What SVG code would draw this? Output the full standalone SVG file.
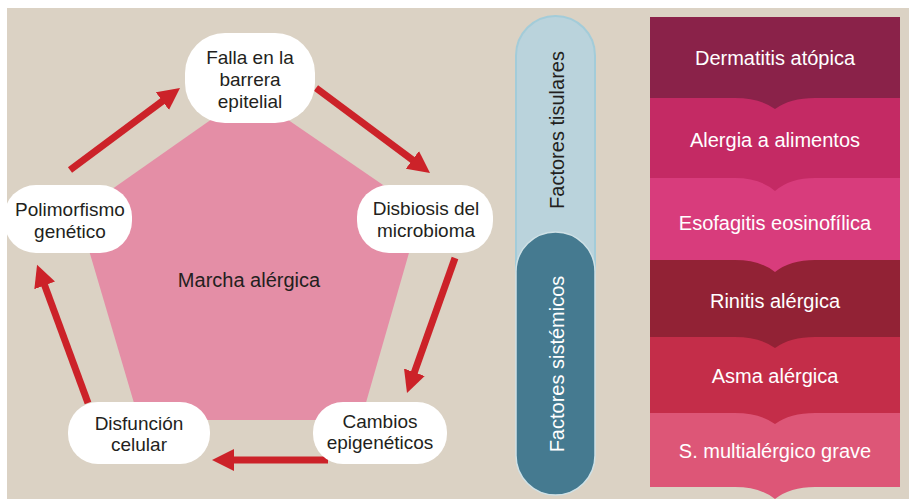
<svg xmlns="http://www.w3.org/2000/svg" width="909" height="499" viewBox="0 0 909 499">
<defs>
<style>
.t{font-family:"Liberation Sans",Arial,sans-serif;font-size:20px;fill:#231f20;text-anchor:middle}
.n{font-size:19px}
.w{fill:#ffffff}
.node{fill:#ffffff}
.arr{stroke:#cc2229;stroke-width:7;fill:none;marker-end:url(#ah)}
</style>
<marker id="ah" markerUnits="userSpaceOnUse" markerWidth="24" markerHeight="24" refX="8" refY="11" orient="auto">
<path d="M0,0 L22,11 L0,22 Z" fill="#cc2229"/>
</marker>
</defs>
<rect x="0" y="0" width="909" height="499" fill="#ffffff"/>
<rect x="7" y="8" width="902" height="491" fill="#dbd2c4"/>
<g id="pentagon">
<polygon points="249,93 421,211 361,420 139,420 78,213" fill="#e48ea6"/>
<text class="t" x="249" y="287">Marcha alérgica</text>
</g>
<g id="connectors">
<line class="arr" x1="70" y1="170" x2="168.8" y2="96.4"/>
<line class="arr" x1="316" y1="88" x2="418.8" y2="164.6"/>
<line class="arr" x1="455" y1="258" x2="411.7" y2="379.8"/>
<line class="arr" x1="328" y1="460" x2="226" y2="460"/>
<line class="arr" x1="88" y1="403" x2="41.9" y2="277.9"/>
</g>
<g id="n-falla">
<rect class="node" x="185" y="33" width="130" height="90" rx="40"/>
<text class="t n" x="250" y="64">Falla en la</text>
<text class="t n" x="250" y="86">barrera</text>
<text class="t n" x="250" y="108">epitelial</text>
</g>
<g id="n-disbiosis">
<rect class="node" x="357" y="185" width="136" height="68" rx="32"/>
<text class="t n" x="426" y="215">Disbiosis del</text>
<text class="t n" x="426" y="237">microbioma</text>
</g>
<g id="n-cambios">
<rect class="node" x="313" y="402" width="134" height="62" rx="30"/>
<text class="t n" x="380" y="428">Cambios</text>
<text class="t n" x="380" y="449">epigenéticos</text>
</g>
<g id="n-disfuncion">
<rect class="node" x="68" y="402" width="142" height="62" rx="30"/>
<text class="t n" x="139" y="430">Disfunción</text>
<text class="t n" x="139" y="451">celular</text>
</g>
<g id="n-polimorfismo">
<rect class="node" x="4" y="185" width="128" height="68" rx="32"/>
<text class="t n" x="70" y="216">Polimorfismo</text>
<text class="t n" x="70" y="238">genético</text>
</g>
<g id="factores-tisulares">
<rect x="516" y="16" width="79" height="290" rx="39.5" fill="#bad3dc" stroke="#a3ccd9" stroke-width="2"/>
<text class="t" transform="translate(564,130) rotate(-90)">Factores tisulares</text>
</g>
<g id="factores-sistemicos">
<rect x="516" y="232" width="79" height="263" rx="39.5" fill="#457a90" stroke="#cfe1e6" stroke-width="1.5"/>
<text class="t w" transform="translate(564,364) rotate(-90)">Factores sistémicos</text>
</g>
<g id="stack">
<path d="M650,413 L900,413 L900,487 L815,487 Q790,487 775,499 Q760,487 735,487 L650,487 Z" fill="#dd5677"/>
<path d="M650,337 L900,337 L900,413 L815,413 Q790,413 775,424 Q760,413 735,413 L650,413 Z" fill="#c42d49"/>
<path d="M650,260 L900,260 L900,337 L815,337 Q790,337 775,348 Q760,337 735,337 L650,337 Z" fill="#922235"/>
<path d="M650,178 L900,178 L900,260 L815,260 Q790,260 775,272 Q760,260 735,260 L650,260 Z" fill="#d83c7c"/>
<path d="M650,98 L900,98 L900,178 L815,178 Q790,178 775,191 Q760,178 735,178 L650,178 Z" fill="#c42a64"/>
<path d="M650,17 L900,17 L900,98 L815,98 Q790,98 775,109 Q760,98 735,98 L650,98 Z" fill="#8a2249"/>
</g>
<g id="b1"><text class="t w" x="775" y="65">Dermatitis atópica</text></g>
<g id="b2"><text class="t w" x="775" y="147">Alergia a alimentos</text></g>
<g id="b3"><text class="t w" x="775" y="230">Esofagitis eosinofílica</text></g>
<g id="b4"><text class="t w" x="775" y="308">Rinitis alérgica</text></g>
<g id="b5"><text class="t w" x="775" y="383">Asma alérgica</text></g>
<g id="b6"><text class="t w" x="775" y="458">S. multialérgico grave</text></g>
</svg>
